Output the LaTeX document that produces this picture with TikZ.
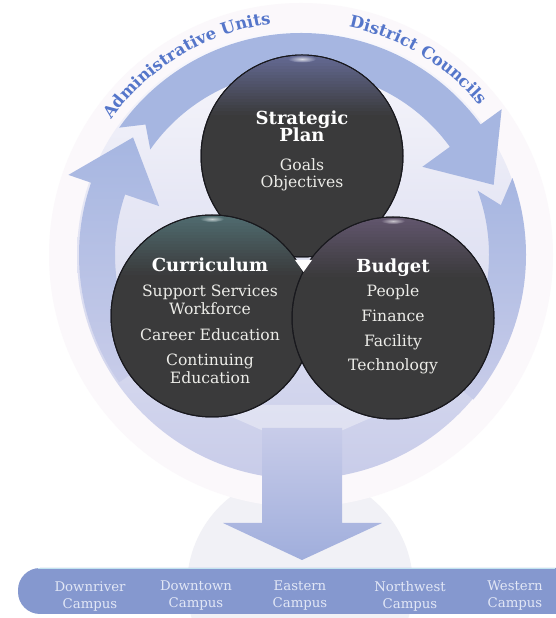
\documentclass[tikz,border=0pt]{standalone}
\usepackage{fontspec}
\setmainfont{DejaVu Serif}
\usetikzlibrary{decorations.text,calc}

\definecolor{bandc}{RGB}{166,182,225}
\definecolor{discTop}{RGB}{249,248,252}
\definecolor{discMid}{RGB}{238,238,249}
\definecolor{discBot}{RGB}{200,204,233}
\definecolor{haloc}{RGB}{251,248,251}
\definecolor{reflc}{RGB}{241,241,246}
\definecolor{charc}{RGB}{58,58,59}
\definecolor{edgec}{RGB}{25,25,30}
\definecolor{itemc}{RGB}{236,236,232}
\definecolor{txtblue}{RGB}{85,118,202}
\definecolor{arrowc}{RGB}{160,174,220}
\definecolor{barc}{RGB}{133,152,207}
\definecolor{barline}{RGB}{195,228,240}
\definecolor{campc}{RGB}{226,231,246}
\definecolor{sheenS}{RGB}{100,106,148}
\definecolor{sheenC}{RGB}{80,108,112}
\definecolor{sheenB}{RGB}{98,86,110}

\newcommand\headfnt{\bfseries\fontsize{18}{18}\selectfont}
\newcommand\itemfnt{\fontsize{15.6}{15.6}\selectfont}
\newcommand\campfnt{\fontsize{13.3}{17}\selectfont}
\newcommand\sheenon[2]{%
  \begin{scope}
    \clip (#1.center) circle (100.4);
    \foreach \i in {0,...,19} {
      \pgfmathtruncatemacro\p{100-5*\i}
      \fill[#2!\p!charc] ($(#1.north)+(-110,-3*\i)$) rectangle ($(#1.north)+(110,-3*\i-3.3)$);
    }
  \end{scope}
  \draw[edgec, line width=1pt] (#1.center) circle (101);
}

\tikzset{
  dcirc/.style={circle, minimum size=202pt, inner sep=0pt, fill=charc, draw=edgec, line width=1pt},
  headtxt/.style={text=white, font=\headfnt, anchor=base, inner sep=0pt},
  itemtxt/.style={text=itemc, font=\itemfnt, anchor=base, inner sep=0pt},
  camptxt/.style={text=campc, font=\campfnt, align=center, anchor=center, inner sep=0pt},
}

\begin{document}
\begin{tikzpicture}[x=1pt,y=1pt]
\useasboundingbox (0,0) rectangle (555,618);
\fill[white] (0,0) rectangle (555,618);

% reflection disc
\fill[reflc] (300,32) circle (113);

% halo and main disc
\coordinate (RC) at (301,363);
\fill[haloc] (RC) circle (252);
\shade[top color=discTop, middle color=discMid, bottom color=discBot] (RC) circle (224);

\begin{scope}[shift={(RC)}]
  % top arrow
  \fill[bandc] (145:222) arc[start angle=145, end angle=36, radius=222]
     -- (36:248) -- (20:205) -- (36:150) -- (36:184)
     arc[start angle=36, end angle=145, radius=184] -- (140:203) -- cycle;
  % left arrow
  \shade[top color=bandc, middle color=bandc, bottom color=discBot]
     (215:222) arc[start angle=215, end angle=161, radius=222]
     -- (161:246) -- (145:205) -- (161:150) -- (161:186)
     arc[start angle=161, end angle=215, radius=186] -- cycle;
  % right arrow
  \shade[top color=bandc, middle color=bandc, bottom color=discBot]
     (20:225) arc[start angle=20, end angle=-40, radius=225]
     -- (-40:188) arc[start angle=-40, end angle=20, radius=188]
     -- (14:206) -- cycle;
  % curved labels
  \path[decorate, decoration={text along path, text align=center,
     text={|\bfseries\fontsize{16.5}{16.5}\selectfont\color{txtblue}|Administrative Units}}]
     (148:233) arc[start angle=148, end angle=94, radius=233];
  \path[decorate, decoration={text along path, text align=center,
     text={|\bfseries\fontsize{16.5}{16.5}\selectfont\color{txtblue}|District Councils}}]
     (82:233) arc[start angle=82, end angle=36, radius=233];
\end{scope}

% lighter wedge below circles
\fill[white, opacity=0.35] (205,213) -- (400,213) -- (302,170) -- cycle;

% down arrow
\shade[top color=discBot, bottom color=arrowc]
  (262,190) -- (342,190) -- (342,95) -- (382,95) -- (302,58) -- (223,95) -- (262,95) -- cycle;

% circles
\node[dcirc] (plan) at (302,462) {};
\sheenon{plan}{sheenS}
\node[dcirc] (curr) at (212,302) {};
\sheenon{curr}{sheenC}
\node[dcirc] (budg) at (393,300) {};
\sheenon{budg}{sheenB}

% glints
\shade[inner color=white!75!sheenS, outer color=sheenS] (302,559) ellipse (14 and 3.5);
\shade[inner color=white!65!sheenC, outer color=sheenC] (212,399) ellipse (12 and 3);
\shade[inner color=white!65!sheenB, outer color=sheenB] (393,397) ellipse (12 and 3);

% triangle
\fill[white] (295,358) -- (312,358) -- (303.5,346) -- cycle;

% texts: strategic plan
\node[headtxt] (t1) at (302,493) {Strategic};
\node[headtxt] (t2) at (302,476) {Plan};
\node[itemtxt] (t3) at (302,447) {Goals};
\node[itemtxt] (t4) at (302,430) {Objectives};
% curriculum
\node[headtxt] (c1) at (210,346) {Curriculum};
\node[itemtxt] (c2) at (210,321) {Support Services};
\node[itemtxt] (c3) at (210,303) {Workforce};
\node[itemtxt] (c4) at (210,277) {Career Education};
\node[itemtxt] (c5) at (210,252) {Continuing};
\node[itemtxt] (c6) at (210,234) {Education};
% budget
\node[headtxt] (b1) at (393,345) {Budget};
\node[itemtxt] (b2) at (393,321) {People};
\node[itemtxt] (b3) at (393,296) {Finance};
\node[itemtxt] (b4) at (393,271) {Facility};
\node[itemtxt] (b5) at (393,247) {Technology};

% campus bar
\fill[barc, rounded corners=22] (18,4) rectangle (590,50);
\draw[barline, line width=0.8pt] (38,50) -- (555,50);
\node[camptxt] (k1) at (90,22) {Downriver\\Campus};
\node[camptxt] (k2) at (196,22) {Downtown\\Campus};
\node[camptxt] (k3) at (300,22) {Eastern\\Campus};
\node[camptxt] (k4) at (410,22) {Northwest\\Campus};
\node[camptxt] (k5) at (515,22) {Western\\Campus};
\end{tikzpicture}
\end{document}
